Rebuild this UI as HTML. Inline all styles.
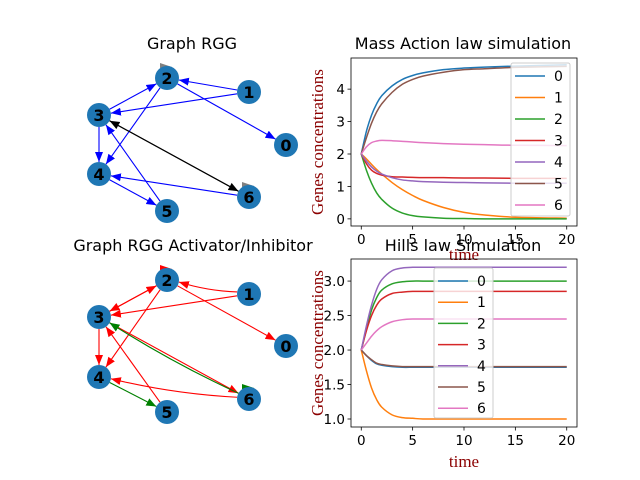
<!DOCTYPE html>
<html><head><meta charset="utf-8"><style>
body{margin:0;background:#fff}
svg{display:block;font-family:"DejaVu Sans","Liberation Sans",sans-serif}
</style></head><body>
<svg id="s" width="640" height="480" viewBox="0 0 640 480" xmlns="http://www.w3.org/2000/svg">
<defs>
<marker id="ab" viewBox="0 0 10 10" refX="10" refY="5" markerWidth="10" markerHeight="10" markerUnits="userSpaceOnUse" orient="auto"><path d="M0,1L10,5L0,9z" fill="#0000ff"/></marker>
<marker id="ak" viewBox="0 0 10 10" refX="10" refY="5" markerWidth="10" markerHeight="10" markerUnits="userSpaceOnUse" orient="auto"><path d="M0,1L10,5L0,9z" fill="#000"/></marker>
<marker id="ar" viewBox="0 0 10 10" refX="10" refY="5" markerWidth="10" markerHeight="10" markerUnits="userSpaceOnUse" orient="auto"><path d="M0,1L10,5L0,9z" fill="#ff0000"/></marker>
<marker id="ag" viewBox="0 0 10 10" refX="10" refY="5" markerWidth="10" markerHeight="10" markerUnits="userSpaceOnUse" orient="auto"><path d="M0,1L10,5L0,9z" fill="#008000"/></marker>
</defs>
<text x="192" y="49" font-size="16" text-anchor="middle">Graph RGG</text>
<text x="193" y="251" font-size="16" text-anchor="middle">Graph RGG Activator/Inhibitor</text>
<text x="463" y="49" font-size="16" text-anchor="middle">Mass Action law simulation</text>
<g id="g1"></g>
<g id="g2"></g>
<g id="c1"></g>
<text x="463" y="251" font-size="16" text-anchor="middle">Hills law Simulation</text>
<g id="c2"></g>
</svg>
<script>
const NS="http://www.w3.org/2000/svg";
function mk(p,t,a){const e=document.createElementNS(NS,t);for(const k in a)e.setAttribute(k,a[k]);p.appendChild(e);return e;}
const times=[0,0.5,1,1.5,2,3,4,5,6,8,10,12,15,20];
const massSeries=[
[2,2.7,3.2,3.55,3.8,4.1,4.3,4.42,4.5,4.6,4.65,4.68,4.71,4.75],
[2,1.85,1.68,1.52,1.38,1.12,0.9,0.72,0.57,0.35,0.2,0.12,0.05,0.02],
[2,1.5,1.1,0.8,0.6,0.33,0.18,0.1,0.06,0.02,0.01,0,0,0],
[2,1.7,1.5,1.4,1.35,1.3,1.29,1.28,1.27,1.27,1.26,1.26,1.25,1.25],
[2,1.78,1.6,1.47,1.38,1.27,1.2,1.17,1.15,1.13,1.12,1.11,1.1,1.1],
[2,2.5,2.95,3.3,3.55,3.9,4.15,4.3,4.4,4.52,4.6,4.63,4.67,4.7],
[2,2.22,2.35,2.4,2.42,2.41,2.39,2.37,2.35,2.32,2.3,2.29,2.27,2.26]];
const hillSeries=[
[2,1.92,1.85,1.8,1.78,1.76,1.75,1.75,1.75,1.75,1.75,1.75,1.75,1.75],
[2,1.7,1.45,1.28,1.17,1.06,1.02,1.01,1.0,1.0,1.0,1.0,1.0,1.0],
[2,2.3,2.58,2.76,2.87,2.96,2.99,3.0,3.0,3.0,3.0,3.0,3.0,3.0],
[2,2.28,2.5,2.65,2.74,2.82,2.84,2.85,2.85,2.85,2.85,2.85,2.85,2.85],
[2,2.35,2.65,2.88,3.02,3.15,3.19,3.2,3.2,3.2,3.2,3.2,3.2,3.2],
[2,1.92,1.86,1.81,1.79,1.77,1.76,1.76,1.76,1.76,1.76,1.76,1.76,1.76],
[2,2.1,2.2,2.28,2.34,2.41,2.44,2.45,2.45,2.45,2.45,2.45,2.45,2.45]];
const seriesNames=["0","1","2","3","4","5","6"];
const xTicks=[0,5,10,15,20];
const massYTicks=[0,1,2,3,4];
const hillYTicks=["1.0","1.5","2.0","2.5","3.0"];
const colors=["#1f77b4","#ff7f0e","#2ca02c","#d62728","#9467bd","#8c564b","#e377c2"];

function chart(g,L,T,R,B,ymin,ymax,series,yt,leg,timeY){
  const sx=v=>L+(v+1)/22*(R-L), sy=v=>B-(v-ymin)/(ymax-ymin)*(B-T);
  series.forEach((s,i)=>{
    const pts=s.map((v,j)=>[sx(times[j]),sy(v)]);
    let d="M"+pts[0][0]+","+pts[0][1];
    for(let j=0;j<pts.length-1;j++){const p0=pts[Math.max(0,j-1)],p1=pts[j],p2=pts[j+1],p3=pts[Math.min(pts.length-1,j+2)];
      d+=" C"+(p1[0]+(p2[0]-p0[0])/6)+","+(p1[1]+(p2[1]-p0[1])/6)+" "+(p2[0]-(p3[0]-p1[0])/6)+","+(p2[1]-(p3[1]-p1[1])/6)+" "+p2[0]+","+p2[1];}
    const e=mk(g,"path",{d:d,fill:"none",stroke:colors[i],"stroke-width":1.5});
    
    
  });
  const fr=mk(g,"rect",{x:L,y:T,width:R-L,height:B-T,fill:"none",stroke:"#000","stroke-width":0.8});
  
  
  xTicks.forEach(v=>{mk(g,"line",{x1:sx(v),x2:sx(v),y1:B,y2:B+3.5,stroke:"#000","stroke-width":0.8});
    const t=mk(g,"text",{x:sx(v),y:B+18,"font-size":"13.5","text-anchor":"middle"});t.textContent=v;
    
    });
  yt.forEach(v=>{const y=sy(parseFloat(v));mk(g,"line",{x1:L-3.5,x2:L,y1:y,y2:y,stroke:"#000","stroke-width":0.8});
    const t=mk(g,"text",{x:L-6,y:y+5,"font-size":"13.5","text-anchor":"end"});t.textContent=v;
    
    });
  const yl=mk(g,"text",{x:0,y:0,transform:"translate(323,"+((T+B)/2)+") rotate(-90)","font-size":"17","text-anchor":"middle",fill:"#8b0000","font-family":"Liberation Serif, serif"});
  yl.textContent="Genes concentrations";
  
  
  const xl=mk(g,"text",{x:(L+R)/2,y:timeY,"font-size":"17","text-anchor":"middle",fill:"#8b0000","font-family":"Liberation Serif, serif"});
  xl.textContent="time";
  
  
  const lg=mk(g,"rect",{x:leg[0],y:leg[1],width:59,height:leg[3],fill:"#fff","fill-opacity":0.8,stroke:"#ccc",rx:2});
  
  
  seriesNames.forEach((n,i)=>{const y=leg[1]+13+i*leg[2];
    const l=mk(g,"line",{x1:leg[0]+4,x2:leg[0]+34,y1:y,y2:y,stroke:colors[i],"stroke-width":1.5});
    
    
    const t=mk(g,"text",{x:leg[0]+43,y:y+5,"font-size":"14"});t.textContent=n;
    
    });
}
chart(document.getElementById("c1"),351,58,577,226,-0.22,4.96,massSeries,massYTicks.map(String),[511,63,21.5,153],260);
chart(document.getElementById("c2"),351,259,577,427,0.884,3.32,hillSeries,hillYTicks,[434,268,21.2,150],467);

function graph(g,pos,edges,loops){
  loops.forEach(l=>{const p=pos[l[0]];
    const e=mk(g,"path",{d:`M${p[0]-7},${p[1]-10} L${p[0]-7},${p[1]-15} L${p[0]+5},${p[1]-11} Z`,fill:l[1]});
    
    });
  edges.forEach(e=>{const a=pos[e[0]],b=pos[e[1]];const dx=b[0]-a[0],dy=b[1]-a[1],L=Math.hypot(dx,dy),ux=dx/L,uy=dy/L;
    const x1=a[0]+ux*12,y1=a[1]+uy*12,x2=b[0]-ux*12,y2=b[1]-uy*12;const c=e[3]||0;
    const mx=(x1+x2)/2-uy*c,my=(y1+y2)/2+ux*c;
    const p=mk(g,"path",{d:`M${x1},${y1} Q${mx},${my} ${x2},${y2}`,fill:"none",stroke:e[2],"stroke-width":1.1,"marker-end":"url(#"+({"#0000ff":"ab","#000":"ak","#ff0000":"ar","#008000":"ag"})[e[2]]+")"});
    
    });
  Object.keys(pos).forEach(k=>{const p=pos[k];
    const c=mk(g,"circle",{cx:p[0],cy:p[1],r:12,fill:"#1f77b4"});
    
    
    const t=mk(g,"text",{x:p[0],y:p[1]+6,"font-size":"16","font-weight":"bold","text-anchor":"middle"});t.textContent=k;
    
    });
}
const B="#0000ff",K="#000",Rd="#ff0000",G="#008000";
graph(document.getElementById("g1"),{0:[286,145],1:[249,92],2:[167,78],3:[99,115],4:[99,174],5:[167,211],6:[249,197]},
 [[1,2,B],[1,3,B],[2,0,B],[2,4,B],[3,2,B],[3,4,B],[4,5,B],[5,3,B],[6,4,B],[3,6,K],[6,3,K]],[[2,"#808080"],[6,"#808080"]]);
graph(document.getElementById("g2"),{0:[286,346],1:[249,294],2:[167,280],3:[99,317],4:[99,377],5:[167,412],6:[249,399]},
 [[1,2,Rd,-4],[1,3,Rd],[2,0,Rd],[2,4,Rd],[3,2,Rd],[2,3,Rd],[3,4,Rd],[5,3,Rd],[6,4,Rd,-6],[3,6,Rd],[6,3,G,-5],[4,5,G]],[[2,Rd],[6,G]]);
</script>
</body></html>
